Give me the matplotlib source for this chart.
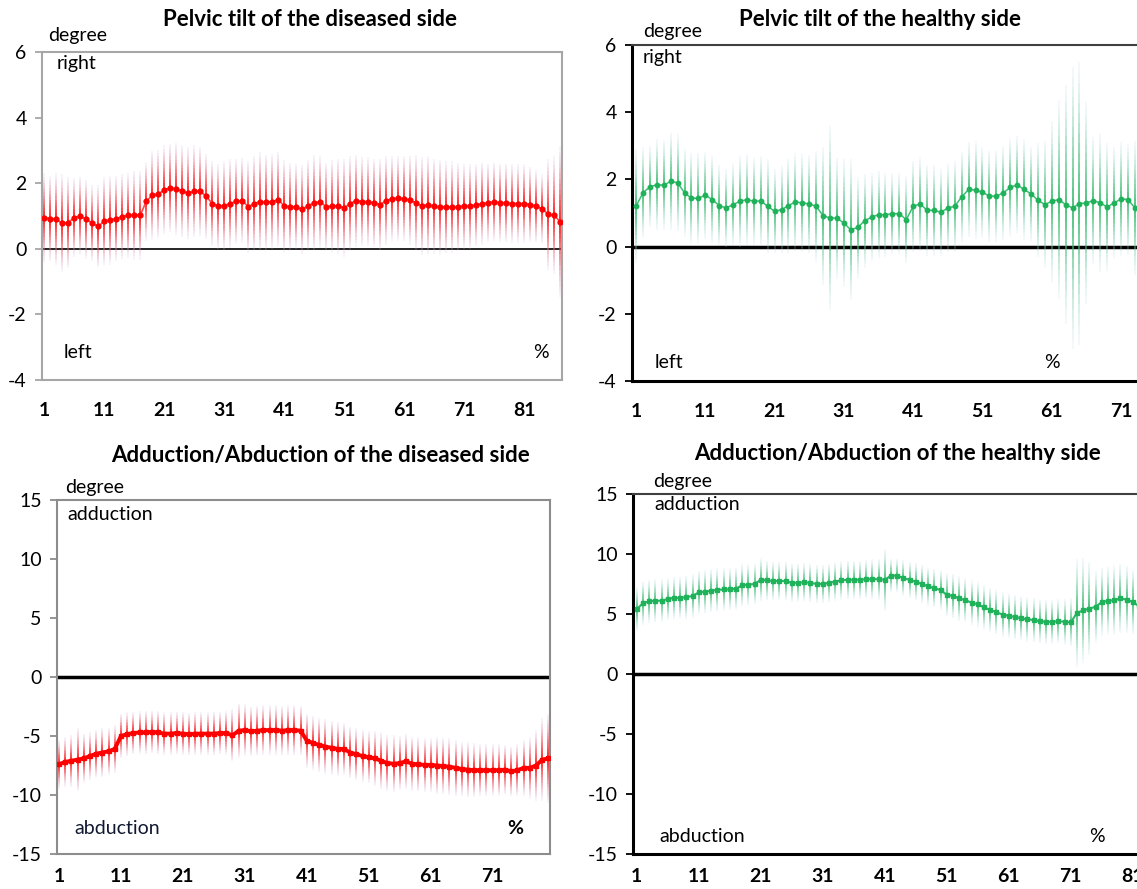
import numpy as np
import matplotlib
matplotlib.use("Agg")
import matplotlib.pyplot as plt
from matplotlib.collections import LineCollection
from matplotlib.colors import to_rgb

plt.rcParams['font.family'] = ['Lato', 'DejaVu Sans']
plt.rcParams['axes.unicode_minus'] = False

# ---- pelvic tilt, diseased side (degree) ----
tilt_dis_mean = [0.95, 0.92, 0.90, 0.78, 0.80, 0.95, 1.00, 0.90, 0.78, 0.68,
                 0.85, 0.87, 0.92, 0.98, 1.02, 1.02, 1.02, 1.45, 1.63, 1.67,
                 1.80, 1.85, 1.82, 1.76, 1.70, 1.75, 1.75, 1.60, 1.38, 1.30,
                 1.32, 1.38, 1.45, 1.47, 1.28, 1.38, 1.44, 1.42, 1.44, 1.50,
                 1.30, 1.28, 1.28, 1.20, 1.32, 1.40, 1.43, 1.28, 1.30, 1.30,
                 1.25, 1.38, 1.47, 1.44, 1.44, 1.40, 1.35, 1.47, 1.53, 1.54,
                 1.53, 1.48, 1.40, 1.30, 1.34, 1.30, 1.27, 1.27, 1.27, 1.28,
                 1.30, 1.30, 1.33, 1.38, 1.40, 1.43, 1.40, 1.40, 1.38, 1.38,
                 1.38, 1.35, 1.30, 1.22, 1.05, 1.02, 0.82]
tilt_dis_sd = [1.35, 1.30, 1.40, 1.50, 1.40, 1.20, 1.20, 1.20, 1.15, 1.25,
               1.35, 1.35, 1.30, 1.30, 1.30, 1.35, 1.35, 1.20, 1.35, 1.35,
               1.35, 1.35, 1.40, 1.40, 1.40, 1.40, 1.35, 1.30, 1.30, 1.30,
               1.35, 1.35, 1.30, 1.30, 1.40, 1.45, 1.50, 1.45, 1.45, 1.45,
               1.40, 1.35, 1.30, 1.35, 1.40, 1.45, 1.40, 1.35, 1.40, 1.45,
               1.50, 1.45, 1.40, 1.35, 1.35, 1.35, 1.40, 1.35, 1.30, 1.30,
               1.30, 1.35, 1.45, 1.50, 1.50, 1.45, 1.45, 1.40, 1.40, 1.35,
               1.30, 1.30, 1.25, 1.25, 1.20, 1.20, 1.20, 1.20, 1.20, 1.20,
               1.20, 1.15, 1.10, 1.05, 1.70, 1.80, 2.30]

# ---- pelvic tilt, healthy side (degree) ----
tilt_hea_mean = [1.20, 1.60, 1.78, 1.84, 1.83, 1.94, 1.90, 1.60, 1.44, 1.44,
                 1.53, 1.40, 1.22, 1.15, 1.25, 1.35, 1.40, 1.35, 1.36, 1.20,
                 1.05, 1.10, 1.22, 1.33, 1.30, 1.27, 1.20, 0.92, 0.85, 0.85,
                 0.70, 0.50, 0.57, 0.77, 0.88, 0.95, 0.95, 0.98, 0.98, 0.80,
                 1.20, 1.27, 1.08, 1.08, 1.02, 1.15, 1.20, 1.48, 1.70, 1.68,
                 1.62, 1.50, 1.50, 1.60, 1.76, 1.84, 1.70, 1.57, 1.38, 1.25,
                 1.35, 1.40, 1.25, 1.15, 1.28, 1.30, 1.37, 1.30, 1.18, 1.30,
                 1.42, 1.40, 1.15]
tilt_hea_sd = [1.70, 1.35, 1.20, 1.35, 1.35, 1.45, 1.45, 1.30, 1.35, 1.35,
               1.30, 1.30, 1.20, 1.15, 1.20, 1.35, 1.35, 1.30, 1.35, 1.40,
               1.25, 1.30, 1.40, 1.45, 1.45, 1.45, 1.65, 2.05, 2.75, 1.80,
               1.90, 2.10, 1.50, 1.40, 1.30, 1.30, 1.25, 1.20, 1.20, 1.30,
               1.35, 1.40, 1.35, 1.35, 1.30, 1.30, 1.35, 1.35, 1.40, 1.45,
               1.35, 1.35, 1.35, 1.40, 1.45, 1.45, 1.50, 1.40, 1.70, 1.90,
               2.40, 2.95, 3.55, 4.20, 4.20, 3.00, 1.90, 2.05, 1.90, 1.65,
               1.70, 1.65, 2.00]

# ---- adduction/abduction, diseased side (degree) ----
abd_dis_mean = [-7.40, -7.20, -7.10, -7.00, -6.90, -6.70, -6.50, -6.40, -6.30, -6.10,
                -5.00, -4.85, -4.75, -4.70, -4.70, -4.65, -4.70, -4.80, -4.80, -4.75,
                -4.80, -4.85, -4.80, -4.80, -4.80, -4.80, -4.75, -4.75, -4.95, -4.55,
                -4.50, -4.60, -4.55, -4.50, -4.50, -4.50, -4.55, -4.50, -4.50, -4.55,
                -5.40, -5.60, -5.75, -5.90, -6.00, -6.10, -6.10, -6.40, -6.55, -6.70,
                -6.80, -6.90, -7.10, -7.30, -7.35, -7.30, -7.15, -7.35, -7.40, -7.45,
                -7.45, -7.50, -7.55, -7.60, -7.70, -7.80, -7.85, -7.90, -7.90, -7.90,
                -7.90, -7.90, -7.85, -8.00, -7.90, -7.70, -7.70, -7.50, -7.00, -6.90]
abd_dis_sd = [2.10, 2.10, 2.20, 2.70, 2.10, 2.00, 2.00, 2.10, 2.00, 2.00,
              1.90, 1.85, 1.80, 1.80, 1.85, 1.80, 1.85, 1.80, 1.80, 1.80,
              1.80, 1.80, 1.80, 1.80, 1.80, 1.85, 1.80, 1.85, 2.20, 2.30,
              2.20, 2.10, 2.10, 2.10, 2.10, 2.10, 2.10, 2.10, 2.15, 2.10,
              2.30, 2.30, 2.30, 2.30, 2.30, 2.30, 2.20, 2.20, 2.20, 2.20,
              2.20, 2.30, 2.40, 2.40, 2.40, 2.30, 2.30, 2.30, 2.30, 2.30,
              2.30, 2.40, 2.40, 2.40, 2.40, 2.30, 2.30, 2.30, 2.20, 2.20,
              2.20, 2.20, 2.10, 2.10, 2.20, 2.40, 2.60, 3.00, 3.50, 3.80]

# ---- adduction/abduction, healthy side (degree) ----
abd_hea_mean = [5.40, 5.90, 6.05, 6.10, 6.10, 6.25, 6.35, 6.35, 6.40, 6.50,
                6.80, 6.85, 6.95, 7.00, 7.05, 7.05, 7.10, 7.40, 7.45, 7.50,
                7.85, 7.80, 7.75, 7.75, 7.75, 7.60, 7.60, 7.65, 7.60, 7.50,
                7.50, 7.60, 7.70, 7.80, 7.85, 7.85, 7.85, 7.90, 7.90, 7.90,
                7.85, 8.20, 8.20, 8.00, 7.85, 7.70, 7.50, 7.30, 7.15, 7.00,
                6.60, 6.50, 6.30, 6.15, 5.95, 5.80, 5.55, 5.35, 5.15, 4.95,
                4.85, 4.75, 4.65, 4.55, 4.50, 4.40, 4.35, 4.35, 4.40, 4.35,
                4.30, 5.10, 5.30, 5.45, 5.60, 6.00, 6.10, 6.15, 6.30, 6.20,
                6.00, 5.65, 5.45]
abd_hea_sd = [1.85, 1.80, 1.80, 1.80, 1.80, 1.75, 1.75, 1.75, 1.80, 1.80,
              1.80, 1.80, 1.80, 1.80, 1.80, 1.75, 1.75, 1.75, 1.70, 1.70,
              1.80, 1.65, 1.60, 1.60, 1.60, 1.60, 1.60, 1.60, 1.60, 1.60,
              1.60, 1.60, 1.60, 1.60, 1.60, 1.60, 1.60, 1.60, 1.65, 1.70,
              2.60, 1.40, 1.40, 1.50, 1.50, 1.55, 1.60, 1.60, 1.60, 1.65,
              1.80, 1.85, 1.85, 1.85, 1.85, 1.85, 1.85, 1.85, 1.85, 1.85,
              1.85, 1.85, 1.85, 1.85, 1.85, 1.85, 1.85, 1.85, 1.85, 1.90,
              2.00, 4.50, 4.35, 3.90, 3.00, 2.80, 2.80, 2.90, 2.90, 2.80,
              2.70, 2.70, 2.70]

RED = '#ff0000'
RED_TIP = '#d0c4ec'
GREEN = '#1fb25a'
GREEN_TIP = '#c4e0ec'

W, H = 1137, 889


def box(l, t, r, b):
    return [l / W, 1 - b / H, (r - l) / W, (b - t) / H]


def ftext(x, y, s, **kw):
    fig.text(x / W, 1 - y / H, s, ha='center', va='center', **kw)


def fade_bars(ax, mean, sd, c_mid, c_tip, lw=1.4, k=14):
    # error bars that fade from the mean towards both ends
    c0 = np.array(to_rgb(c_mid))
    c1 = np.array(to_rgb(c_tip))
    segs, cols = [], []
    for i, (m, s) in enumerate(zip(mean, sd)):
        xi = i + 1
        for sign in (1, -1):
            for j in range(k):
                y0 = m + sign * s * j / k
                y1 = m + sign * s * (j + 1) / k
                t = ((j + 0.5) / k) ** 1.3
                rgb = c0 * (1 - t) + c1 * t
                segs.append([(xi, y0), (xi, y1)])
                cols.append((*rgb, 0.85 - 0.7 * t))
    ax.add_collection(LineCollection(segs, colors=cols, linewidths=lw,
                                     capstyle='butt', zorder=2))


def style(ax, ylim, yticks, xticks, xlim, spine_col, left_col, left_lw,
          zero_lw, xpad):
    ax.set_ylim(*ylim)
    ax.set_yticks(yticks)
    ax.set_xlim(*xlim)
    ax.set_xticks(xticks)
    ax.set_xticklabels([str(v) for v in xticks], fontweight='bold')
    for name, sp in ax.spines.items():
        sp.set_color(spine_col)
        sp.set_linewidth(1.5)
    ax.spines['left'].set_color(left_col)
    ax.spines['left'].set_linewidth(left_lw)
    ax.spines['bottom'].set_color(left_col)
    ax.spines['bottom'].set_linewidth(left_lw)
    ax.tick_params(axis='x', length=0, pad=xpad, labelsize=14)
    ax.tick_params(axis='y', direction='out', length=5, width=1.3,
                   color=left_col, pad=6, labelsize=14)
    ax.axhline(0, color='black', lw=zero_lw, zorder=1)


fig = plt.figure(figsize=(W / 100, H / 100), dpi=100)

# pelvic tilt, diseased side
ax1 = fig.add_axes(box(42, 52, 562, 380))
x1 = np.arange(1, len(tilt_dis_mean) + 1)
fade_bars(ax1, tilt_dis_mean, tilt_dis_sd, RED, RED_TIP)
ax1.plot(x1, tilt_dis_mean, color='#ff4a4a', lw=1.2, marker='o', ms=3.5,
         mfc=RED, mec=RED, zorder=3)
style(ax1, (-4, 6), [-4, -2, 0, 2, 4, 6], list(range(1, 88, 10)), (0.62, 87.3),
      '#a6a6a6', '#a6a6a6', 1.5, 1.2, 16)

# pelvic tilt, healthy side
ax2 = fig.add_axes(box(632, 45, 1234, 381))
x2 = np.arange(1, len(tilt_hea_mean) + 1)
fade_bars(ax2, tilt_hea_mean, tilt_hea_sd, GREEN, GREEN_TIP, lw=1.3)
ax2.plot(x2, tilt_hea_mean, color='#3cc070', lw=1.1, marker='o', ms=3.2,
         mfc=GREEN, mec=GREEN, zorder=3)
style(ax2, (-4, 6), [-4, -2, 0, 2, 4, 6], list(range(1, 72, 10)), (0.42, 87.3),
      '#404040', 'black', 2.2, 2.5, 16)

# adduction/abduction, diseased side
ax3 = fig.add_axes(box(57, 500, 550, 854))
x3 = np.arange(1, len(abd_dis_mean) + 1)
fade_bars(ax3, abd_dis_mean, abd_dis_sd, RED, RED_TIP)
ax3.plot(x3, abd_dis_mean, color=RED, lw=2.8, marker='s', ms=3.0,
         mfc=RED, mec=RED, zorder=3)
style(ax3, (-15, 15), [-15, -10, -5, 0, 5, 10, 15], list(range(1, 72, 10)),
      (0.68, 80.25), '#8c8c8c', '#8c8c8c', 1.5, 2.5, 10)

# adduction/abduction, healthy side
ax4 = fig.add_axes(box(633, 494, 1170, 854))
x4 = np.arange(1, len(abd_hea_mean) + 1)
fade_bars(ax4, abd_hea_mean, abd_hea_sd, GREEN, GREEN_TIP, lw=1.3)
ax4.plot(x4, abd_hea_mean, color='#2cb865', lw=1.5, marker='s', ms=2.8,
         mfc=GREEN, mec=GREEN, zorder=3)
style(ax4, (-15, 15), [-15, -10, -5, 0, 5, 10, 15], list(range(1, 82, 10)),
      (0.4, 87.0), '#404040', 'black', 2.2, 2.5, 10)

# titles
tkw = dict(fontsize=16, fontweight='bold')
ftext(310, 20, 'Pelvic tilt of the diseased side', **tkw)
ftext(880, 19, 'Pelvic tilt of the healthy side', **tkw)
ftext(320, 456, 'Adduction/Abduction of the diseased side', **tkw)
ftext(898, 454, 'Adduction/Abduction of the healthy side', **tkw)

# axis annotations
akw = dict(fontsize=14)
ftext(78, 36, 'degree', **akw)
ftext(77, 63, 'right', **akw)
ftext(78, 353, 'left', **akw)
ftext(541, 353, '%', **akw)

ftext(673, 31, 'degree', **akw)
ftext(663, 58, 'right', **akw)
ftext(669, 363, 'left', **akw)
ftext(1052, 363, '%', **akw)

ftext(95, 488, 'degree', **akw)
ftext(110, 514, 'adduction', **akw)
ftext(117, 829, 'abduction', color='#101830', **akw)
ftext(515, 829, '%', fontweight='bold', **akw)

ftext(683, 481, 'degree', **akw)
ftext(697, 504, 'adduction', **akw)
ftext(702, 836, 'abduction', **akw)
ftext(1097, 836, '%', **akw)

fig.savefig('out.png', dpi=100)
